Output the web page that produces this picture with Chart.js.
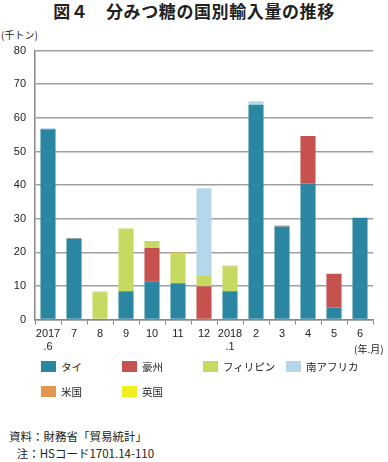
<!DOCTYPE html>
<html>
<head>
<meta charset="utf-8">
<script src="https://cdn.jsdelivr.net/npm/chart.js@4/dist/chart.umd.min.js"></script>
<style>
  body { margin: 0; width: 388px; height: 462px; background: #fff; position: relative; overflow: hidden;
         font-family: 'Liberation Sans', 'Noto Sans CJK JP', sans-serif; color: #222; }
  .title { position: absolute; top: -2px; left: 0; width: 388px; text-align: center;
           font-family: 'Noto Sans CJK JP', sans-serif; font-weight: bold; font-size: 17px; letter-spacing: 0.6px; }
  .unit { position: absolute; top: 27px; left: 1px; font-size: 10px; font-family: 'Noto Sans CJK JP', sans-serif; white-space: nowrap; }
  .chartBox { position: absolute; top: 35px; left: 0; width: 388px; height: 322px; }
  .ym { position: absolute; top: 341px; left: 354px; font-size: 10px; font-family: 'Noto Sans CJK JP', sans-serif; white-space: nowrap; }
  .legend { position: absolute; top: 0; left: 0; }
  .legItem { position: absolute; font-size: 10.5px; font-family: 'Noto Sans CJK JP', sans-serif; white-space: nowrap; }
  .legItem span.box { display: inline-block; width: 15px; height: 11px; vertical-align: -1px; margin-right: 5px; }
  .notes { position: absolute; top: 428px; left: 9px; font-size: 11.5px; line-height: 17px;
           font-family: 'Noto Sans CJK JP', sans-serif; }
</style>
</head>
<body>
<div class="title">図４　分みつ糖の国別輸入量の推移</div>
<div class="unit">(千トン)</div>
<div class="chartBox"><canvas id="myChart"></canvas></div>
<div class="ym">(年.月)</div>
<div class="legend" id="legend"></div>
<div class="notes">資料：財務省「貿易統計」<br>&nbsp;&nbsp;&nbsp;注：HSコード1701.14-110</div>
<script>
const labels = [['2017', '.6'], '7', '8', '9', '10', '11', '12', ['2018', '.1'], '2', '3', '4', '5', '6'];
const names = ['タイ', '豪州', 'フィリピン', '南アフリカ', '米国', '英国'];
const colors = ['#2B87A1', '#C5524F', '#C6D961', '#B4D8EA', '#E0964F', '#F0F020'];

const thai   = [56.6, 24.1, 0, 8.4, 11.4, 10.8, 0, 8.4, 63.9, 27.7, 40.5, 3.6, 30.3];
const aus    = [0, 0, 0, 0, 9.9, 0, 9.9, 0, 0, 0, 14.1, 10.0, 0];
const phil   = [0, 0, 8.1, 18.7, 2.1, 9.1, 3.1, 7.4, 0, 0, 0, 0, 0];
const safr   = [0.3, 0, 0, 0, 0, 0, 26.1, 0, 1.0, 0, 0, 0, 0];
const usa    = [0, 0.2, 0, 0, 0, 0.2, 0, 0.2, 0, 0.3, 0, 0, 0];
const uk     = [0, 0, 0.3, 0, 0, 0, 0, 0, 0, 0, 0, 0, 0];
const yTicks = [0, 10, 20, 30, 40, 50, 60, 70, 80];

const series = [thai, aus, phil, safr, usa, uk];

// legend, 4 columns x 2 rows
const legend = document.getElementById('legend');
const legX = [41, 122, 203, 286];
const legY = [359, 384];
names.forEach(function (n, i) {
  const d = document.createElement('div');
  d.className = 'legItem';
  d.style.left = legX[i % 4] + 'px';
  d.style.top = legY[Math.floor(i / 4)] + 'px';
  d.innerHTML = '<span class="box" style="background:' + colors[i] + '"></span>' + n;
  legend.appendChild(d);
});

const ctx = document.getElementById('myChart');
new Chart(ctx, {
  type: 'bar',
  data: {
    labels: labels,
    datasets: series.map(function (s, i) {
      return {
        label: names[i],
        data: s,
        backgroundColor: colors[i],
        borderWidth: 0,
        barPercentage: 0.58,
        categoryPercentage: 1
      };
    })
  },
  options: {
    responsive: true,
    maintainAspectRatio: false,
    animation: false,
    layout: { padding: { top: 5, right: 15, left: 0, bottom: 0 } },
    plugins: { legend: { display: false }, tooltip: { enabled: false } },
    scales: {
      x: {
        stacked: true,
        grid: { display: true, drawOnChartArea: false, offset: true, tickLength: 5, color: '#888' },
        border: { color: '#888', width: 1.5 },
        ticks: { color: '#222', font: { size: 11, family: "'Liberation Sans', sans-serif" }, padding: 3, maxRotation: 0, autoSkip: false }
      },
      y: {
        stacked: true,
        min: 0,
        max: 80,
        afterBuildTicks: function (scale) { scale.ticks = yTicks.map(function (v) { return { value: v }; }); },
        afterFit: function (scale) { scale.width = 35; },
        grid: { color: '#a0a0a0', lineWidth: 1.5, drawTicks: false },
        border: { color: '#888', width: 1.5 },
        ticks: { color: '#222', font: { size: 11, family: "'Liberation Sans', sans-serif" }, padding: 9 }
      }
    }
  }
});
</script>
</body>
</html>
